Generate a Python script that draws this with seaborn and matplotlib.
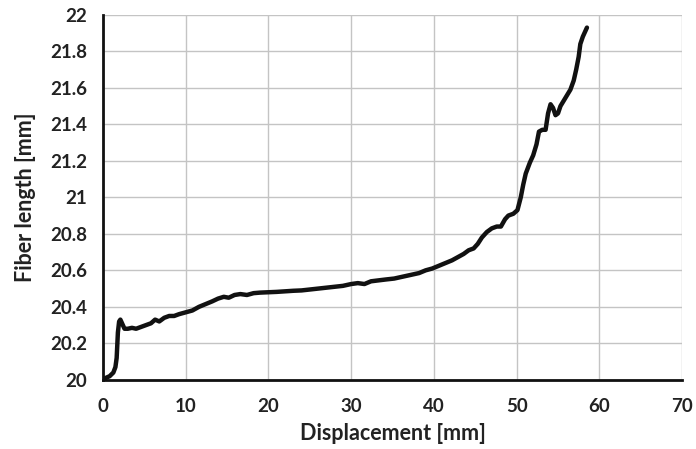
import numpy as np
import pandas as pd
import matplotlib
matplotlib.use("Agg")
import matplotlib.pyplot as plt
import seaborn as sns

# values
displacement = [0.3, 0.8, 1.25, 1.5, 1.65, 1.8, 1.95, 2.1, 2.3, 2.6, 3.0, 3.5, 4.0,
                4.6, 5.2, 5.8, 6.3, 6.8, 7.4, 8.0, 8.6, 9.2, 10.0, 10.8, 11.6,
                12.4, 13.2, 13.9, 14.6, 15.2, 15.9, 16.6, 17.4, 18.2, 19.0, 20.0,
                21.0, 22.0, 23.0, 24.0, 25.0, 26.0, 27.0, 28.0, 29.0, 30.0, 30.8,
                31.6, 32.4, 33.3, 34.2, 35.2, 36.2, 37.2, 38.2, 39.0, 39.8, 40.6,
                41.4, 42.2, 43.0, 43.6, 44.2, 44.8, 45.3, 45.8, 46.4, 47.0, 47.6,
                48.1, 48.6, 49.0, 49.6, 50.1, 50.5, 50.8, 51.1, 51.6, 52.0, 52.4,
                52.7, 53.1, 53.5, 53.8, 54.1, 54.4, 54.7, 55.0, 55.3, 55.7, 56.1,
                56.5, 56.9, 57.2, 57.5, 57.7, 58.0, 58.5]
fiber_length = [20.01, 20.02, 20.04, 20.07, 20.12, 20.26, 20.32, 20.33, 20.31, 20.28,
                20.28, 20.285, 20.28, 20.29, 20.30, 20.31, 20.33, 20.32, 20.34,
                20.35, 20.35, 20.36, 20.37, 20.38, 20.40, 20.415, 20.43, 20.445,
                20.455, 20.45, 20.465, 20.47, 20.465, 20.475, 20.478, 20.48, 20.482,
                20.485, 20.488, 20.49, 20.495, 20.50, 20.505, 20.51, 20.515, 20.525,
                20.53, 20.525, 20.54, 20.545, 20.55, 20.555, 20.565, 20.575, 20.585,
                20.60, 20.61, 20.625, 20.64, 20.655, 20.675, 20.69, 20.71, 20.72,
                20.745, 20.78, 20.81, 20.83, 20.84, 20.84, 20.88, 20.90, 20.91,
                20.93, 21.00, 21.07, 21.13, 21.19, 21.23, 21.29, 21.36, 21.37,
                21.37, 21.46, 21.51, 21.49, 21.45, 21.46, 21.50, 21.53, 21.56,
                21.59, 21.64, 21.70, 21.77, 21.84, 21.88, 21.93]

x_ticks = [0, 10, 20, 30, 40, 50, 60, 70]
y_ticks = [20, 20.2, 20.4, 20.6, 20.8, 21, 21.2, 21.4, 21.6, 21.8, 22]
y_tick_labels = ["20", "20.2", "20.4", "20.6", "20.8", "21", "21.2", "21.4",
                 "21.6", "21.8", "22"]

df = pd.DataFrame({"Displacement": displacement, "Fiber length": fiber_length})

sns.set_style("white")
plt.rcParams["font.family"] = ["Lato", "DejaVu Sans"]

fig = plt.figure(figsize=(6.96, 4.49), dpi=100)
ax = fig.add_axes([0.148, 0.154, 0.832, 0.813])

sns.lineplot(data=df, x="Displacement", y="Fiber length", color="#111111",
             linewidth=3.2, ax=ax, sort=False, solid_capstyle="round")

ax.set_xlim(0, 70)
ax.set_ylim(20, 22)
ax.set_xticks(x_ticks)
ax.set_yticks(y_ticks)
ax.set_yticklabels(y_tick_labels)
ax.grid(True, color="#c4c4c4", linewidth=1.0)
ax.set_axisbelow(True)

for s in ["top", "right"]:
    ax.spines[s].set_visible(False)
for s in ["left", "bottom"]:
    ax.spines[s].set_color("#111111")
    ax.spines[s].set_linewidth(2.0)

ax.tick_params(axis="y", direction="inout", length=7, width=1.5, colors="#111111",
               labelsize=13.5, pad=8)
ax.tick_params(axis="x", direction="out", length=4, width=1.5, colors="#111111",
               labelsize=13.5, pad=9)
for lab in ax.get_xticklabels() + ax.get_yticklabels():
    lab.set_fontweight("bold")
    lab.set_color("#222222")

ax.set_xlabel("Displacement [mm]", fontsize=15.5, fontweight="bold", color="#222222",
              labelpad=6)
ax.set_ylabel("Fiber length [mm]", fontsize=15.5, fontweight="bold", color="#222222",
              labelpad=10)

fig.savefig("out.png", dpi=100)
